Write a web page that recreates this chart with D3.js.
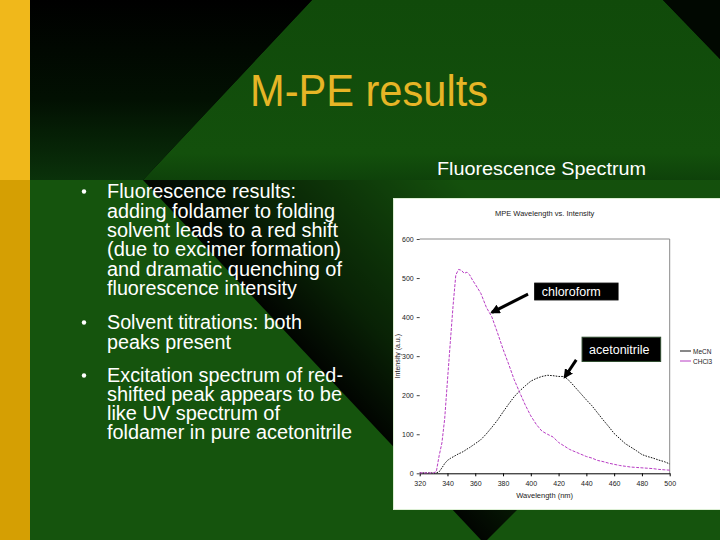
<!DOCTYPE html>
<html><head><meta charset="utf-8">
<script src="https://cdn.jsdelivr.net/npm/d3@7"></script>
<style>html,body{margin:0;padding:0;background:#000;overflow:hidden}</style>
</head><body><svg id="c" width="720" height="540"></svg>
<script>
// ---------------- data ----------------
const wavelengths = [320,324,328,330,332,334,336,338,340,342,344,346,348,350,352,354,356,358,360,364,368,372,376,380,384,388,392,396,400,404,408,412,416,420,424,428,432,436,440,444,448,452,456,460,464,468,472,476,480,484,488,492,496,500];
const chloroform = [1,1,1,1,5,45,78,140,238,334,428,508,522,520,512,515,508,495,484,461,425,400,360,318,280,240,207,175,147,125,108,100,93,79,70,61,55,49,43,39,33,30,26,23,20,18,16,15,14,13,12,10,9,8];
const acetonitrile = [1,1,1,1,1,4,14,25,33,38,42,46,50,53,57,62,66,71,76,86,101,118,136,157,177,196,211,224,236,243,248,251,250,248,248,236,220,204,188,173,155,137,120,102,89,76,67,58,48,43,39,34,30,24];
const seriesNames = ["MeCN", "CHCl3"];
const xTicks = [320,340,360,380,400,420,440,460,480,500];
const yTicks = [0,100,200,300,400,500,600];
const chartTitle = "MPE Wavelength vs. Intensity";
const xTitle = "Wavelength (nm)";
const yTitle = "Intensity (a.u.)";
const slideTitle = "M-PE results";
const panelTitle = "Fluorescence Spectrum";
const bulletGroups = [
  ["Fluorescence results:", "adding foldamer to folding", "solvent leads to a red shift", "(due to excimer formation)", "and dramatic quenching of", "fluorescence intensity"],
  ["Solvent titrations: both", "peaks present"],
  ["Excitation spectrum of red-", "shifted peak appears to be", "like UV spectrum of", "foldamer in pure acetonitrile"]
];
const bulletWidths = [[189,228,231,234,235,190],[195,124],[236,235,173,245]];
// annotations in data units: [x0,x1,yTop,yBottom], arrow from -> to
const annotations = [
  {text:"chloroform", box:[402.8,462.8,487,444], from:[398,459], to:[372,412], border:"#000"},
  {text:"acetonitrile", box:[436.9,493.5,348.5,286.4], from:[432.7,290.5], to:[424.4,246], border:"#2d4a2d"}
];

// ---------------- slide background ----------------
const svg = d3.select("#c");
const defs = svg.append("defs");
svg.append("rect").attr("width",720).attr("height",540).attr("fill","#000");

const gTL = defs.append("linearGradient").attr("id","gTL").attr("x1",0).attr("y1",0).attr("x2",0).attr("y2",1);
gTL.append("stop").attr("offset",0).attr("stop-color","#000");
gTL.append("stop").attr("offset",0.55).attr("stop-color","#021002");
gTL.append("stop").attr("offset",1).attr("stop-color","#0a320a");
const gTop = defs.append("linearGradient").attr("id","gTop").attr("x1",0).attr("y1",0).attr("x2",0).attr("y2",1);
gTop.append("stop").attr("offset",0).attr("stop-color","#104a0a");
gTop.append("stop").attr("offset",0.85).attr("stop-color","#13500c");
gTop.append("stop").attr("offset",1).attr("stop-color","#0e420a");
const gSh = defs.append("linearGradient").attr("id","gSh").attr("gradientUnits","userSpaceOnUse")
  .attr("x1",393).attr("y1",447).attr("x2",393+0.7286*230).attr("y2",447-0.6849*230);
gSh.append("stop").attr("offset",0).attr("stop-color","#000").attr("stop-opacity",0.95);
gSh.append("stop").attr("offset",0.3).attr("stop-color","#000").attr("stop-opacity",0.6);
gSh.append("stop").attr("offset",1).attr("stop-color","#000").attr("stop-opacity",0.05);

svg.append("rect").attr("x",30).attr("y",180).attr("width",690).attr("height",360).attr("fill","#15540d");
svg.append("polygon").attr("points","312,0 663,0 720,59 720,180 143,180").attr("fill","url(#gTop)");
svg.append("polygon").attr("points","30,0 312,0 143,180 30,180").attr("fill","url(#gTL)");
svg.append("polygon").attr("points","663,0 720,0 720,59").attr("fill","#010801");
svg.append("polygon").attr("points","143,180 720,180 720,307 487,540 481,540").attr("fill","url(#gSh)");
svg.append("rect").attr("x",0).attr("y",0).attr("width",30).attr("height",180).attr("fill","#f0b81b");
svg.append("rect").attr("x",0).attr("y",180).attr("width",30).attr("height",360).attr("fill","#d59f03");

const font = "'Liberation Sans', Arial, Helvetica, sans-serif";
svg.append("text").attr("x",250).attr("y",106).attr("font-family",font).attr("font-size",44)
  .attr("fill","#e6b526").attr("textLength",238).attr("lengthAdjust","spacingAndGlyphs").text(slideTitle);
svg.append("text").attr("x",437).attr("y",175).attr("font-family",font).attr("font-size",19)
  .attr("fill","#fff").attr("textLength",209).attr("lengthAdjust","spacingAndGlyphs").text(panelTitle);

const bulletBase = [[198,217.5,237,256,275.5,295],[329,348.5],[382,401,420,438.5]];
bulletGroups.forEach((lines,gi)=>{
  svg.append("circle").attr("cx",84).attr("cy",bulletBase[gi][0]-6.5).attr("r",2.2).attr("fill","#fff");
  lines.forEach((ln,li)=>{
    svg.append("text").attr("x",107).attr("y",bulletBase[gi][li]).attr("font-family",font).attr("font-size",19.5)
      .attr("fill","#fff").attr("textLength",bulletWidths[gi][li]).attr("lengthAdjust","spacingAndGlyphs").text(ln);
  });
});

// ---------------- chart ----------------
svg.append("rect").attr("x",393.5).attr("y",198.5).attr("width",330).attr("height",311).attr("fill","#fff").attr("stroke","#dcefd4");

const x = d3.scaleLinear().domain([320,500]).range([419.7,669.7]);
const y = d3.scaleLinear().domain([0,600]).range([473.3,239]);

const tf = "'Liberation Sans', Arial, sans-serif";
svg.append("path").attr("d",`M${x(320)},${y(600)}H${x(500)}V${y(0)}`).attr("fill","none").attr("stroke","#8a8a8a").attr("stroke-width",1);

const xAxis = svg.append("g").attr("transform",`translate(0,${y(0)})`)
  .call(d3.axisBottom(x).tickValues(xTicks).tickSize(3).tickSizeOuter(0).tickFormat(d3.format("d")));
xAxis.select(".domain").attr("stroke","#000");
xAxis.selectAll("text").attr("font-family",tf).attr("font-size",7).attr("fill","#222").attr("dy","0.9em");
const yAxis = svg.append("g").attr("transform",`translate(${x(320)},0)`)
  .call(d3.axisLeft(y).tickValues(yTicks).tickSize(3).tickSizeOuter(0).tickFormat(d3.format("d")));
yAxis.select(".domain").remove();
yAxis.selectAll("line").attr("stroke","#444");
yAxis.selectAll("text").attr("font-family",tf).attr("font-size",7).attr("fill","#222");

svg.append("text").attr("x",(x(320)+x(500))/2).attr("y",216).attr("text-anchor","middle")
  .attr("font-family",tf).attr("font-size",7.5).attr("fill","#222").text(chartTitle);
svg.append("text").attr("x",(x(320)+x(500))/2).attr("y",498).attr("text-anchor","middle")
  .attr("font-family",tf).attr("font-size",7.5).attr("fill","#222").text(xTitle);
svg.append("text").attr("transform",`translate(400,${(y(0)+y(600))/2}) rotate(-90)`).attr("text-anchor","middle")
  .attr("font-family",tf).attr("font-size",7).attr("fill","#222").text(yTitle);

const line = d3.line().x(d=>x(d[0])).y(d=>y(d[1]));
const colors = ["#111", "#b83cc4"];
const datasets = [acetonitrile, chloroform];
datasets.forEach((vals,i)=>{
  svg.append("path").datum(wavelengths.map((w,j)=>[w,vals[j]]))
    .attr("d",line).attr("fill","none").attr("stroke",colors[i]).attr("stroke-width",1)
    .attr("stroke-dasharray", i===0 ? "1.6,1.2" : "3,1.4");
});

// legend
seriesNames.forEach((n,i)=>{
  const ly = 351 + i*10;
  svg.append("line").attr("x1",680).attr("x2",691).attr("y1",ly).attr("y2",ly).attr("stroke",colors[i]).attr("stroke-width",1);
  svg.append("text").attr("x",693).attr("y",ly+2.5).attr("font-family",tf).attr("font-size",6.5).attr("fill","#222").text(n);
});

// annotations
defs.append("marker").attr("id","ah").attr("viewBox","0 0 10 10").attr("refX",8).attr("refY",5)
  .attr("markerWidth",3.2).attr("markerHeight",3.2).attr("orient","auto")
  .append("path").attr("d","M0,0L10,5L0,10z").attr("fill","#000");
annotations.forEach(a=>{
  const bx = x(a.box[0]), bw = x(a.box[1])-x(a.box[0]), by = y(a.box[2]), bh = y(a.box[3])-y(a.box[2]);
  svg.append("rect").attr("x",bx).attr("y",by).attr("width",bw).attr("height",bh).attr("fill","#000").attr("stroke",a.border);
  svg.append("text").attr("x",bx+7).attr("y",by+bh/2+4.5).attr("font-family",font).attr("font-size",12.5).attr("fill","#fff").text(a.text);
  svg.append("line").attr("x1",x(a.from[0])).attr("y1",y(a.from[1])).attr("x2",x(a.to[0])).attr("y2",y(a.to[1]))
    .attr("stroke","#000").attr("stroke-width",3).attr("marker-end","url(#ah)");
});
</script></body></html>
